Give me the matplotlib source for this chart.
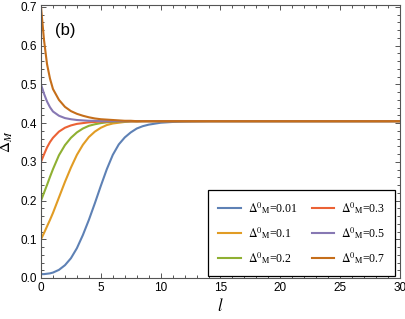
import matplotlib
matplotlib.use('Agg')
import matplotlib.pyplot as plt
from matplotlib.ticker import MultipleLocator

# Datos
l_vals = [0, 0.25, 0.5, 0.75, 1, 1.5, 2, 2.5, 3, 3.5, 4, 4.5, 5, 5.5, 6, 6.5,
          7, 7.5, 8, 8.5, 9, 10, 11, 12, 14, 30]

delta_001 = [0.010, 0.010, 0.011, 0.012, 0.014, 0.021, 0.033, 0.051, 0.077, 0.111,
             0.150, 0.193, 0.238, 0.281, 0.318, 0.345, 0.363, 0.376, 0.386, 0.392,
             0.396, 0.401, 0.403, 0.404, 0.405, 0.405]
delta_01 = [0.100, 0.116, 0.133, 0.150, 0.168, 0.208, 0.248, 0.285, 0.318, 0.344,
            0.364, 0.378, 0.388, 0.395, 0.399, 0.401, 0.403, 0.404, 0.404, 0.405,
            0.405, 0.405, 0.405, 0.405, 0.405, 0.405]
delta_02 = [0.200, 0.220, 0.240, 0.261, 0.281, 0.317, 0.343, 0.362, 0.376, 0.386,
            0.393, 0.397, 0.400, 0.402, 0.403, 0.404, 0.404, 0.405, 0.405, 0.405,
            0.405, 0.405, 0.405, 0.405, 0.405, 0.405]
delta_03 = [0.300, 0.319, 0.337, 0.351, 0.362, 0.378, 0.388, 0.394, 0.398, 0.400,
            0.402, 0.403, 0.404, 0.404, 0.405, 0.405, 0.405, 0.405, 0.405, 0.405,
            0.405, 0.405, 0.405, 0.405, 0.405, 0.405]
delta_05 = [0.500, 0.476, 0.456, 0.441, 0.430, 0.419, 0.413, 0.410, 0.408, 0.407,
            0.406, 0.406, 0.405, 0.405, 0.405, 0.405, 0.405, 0.405, 0.405, 0.405,
            0.405, 0.405, 0.405, 0.405, 0.405, 0.405]
delta_07 = [0.700, 0.615, 0.553, 0.515, 0.488, 0.460, 0.442, 0.431, 0.424, 0.419,
            0.415, 0.412, 0.410, 0.409, 0.408, 0.407, 0.406, 0.406, 0.405, 0.405,
            0.405, 0.405, 0.405, 0.405, 0.405, 0.405]

etiquetas = ['0.01', '0.1', '0.2', '0.3', '0.5', '0.7']
series = [delta_001, delta_01, delta_02, delta_03, delta_05, delta_07]
colores = ['#5E81B5', '#E19C24', '#8FB032', '#EB6235', '#8778B3', '#C56E1A']

plt.rcParams['mathtext.fontset'] = 'stix'
plt.rcParams['font.family'] = ['Liberation Sans', 'DejaVu Sans']

fig = plt.figure(figsize=(4.06, 3.19), dpi=100)
ax = fig.add_axes([41 / 406, 41 / 319, 359 / 406, 273 / 319])

for y, etq, c in zip(series, etiquetas, colores):
    ax.plot(l_vals, y, color=c, lw=1.5,
            label=r'$\Delta^{0}{}_{\mathrm{M}}$=' + etq)

ax.set_xlim(0, 30)
ax.set_ylim(0, 0.705)
ax.xaxis.set_major_locator(MultipleLocator(5))
ax.xaxis.set_minor_locator(MultipleLocator(1))
ax.yaxis.set_minor_locator(MultipleLocator(0.02))
ax.set_yticks([0, 0.1, 0.2, 0.3, 0.4, 0.5, 0.6, 0.7])
ax.set_yticklabels(['0.0', '0.1', '0.2', '0.3', '0.4', '0.5', '0.6', '0.7'])
ax.tick_params(which='both', direction='in', top=True, right=True,
               color='#555555', labelsize=8.5, width=0.7)
ax.tick_params(which='major', length=3.5, pad=3)
ax.tick_params(which='minor', length=2)
for s in ax.spines.values():
    s.set_color('#555555')
    s.set_linewidth(0.8)

ax.set_xlabel(r'$l$', fontsize=12, labelpad=2)
ax.set_ylabel(r'$\Delta_{M}$', fontsize=11, labelpad=4)
ax.text(1.2, 0.64, '(b)', fontsize=12, va='center', ha='left')

leg = ax.legend(ncol=2, loc='lower right', bbox_to_anchor=(0.987, 0.007),
                prop={'family': 'Liberation Serif', 'size': 8.5},
                fancybox=False, edgecolor='black', framealpha=1,
                handlelength=1.9, handletextpad=0.6, columnspacing=1.2,
                labelspacing=0.8, borderpad=0.85, borderaxespad=0)
leg.get_frame().set_linewidth(0.9)

fig.savefig('out.png', dpi=100)
